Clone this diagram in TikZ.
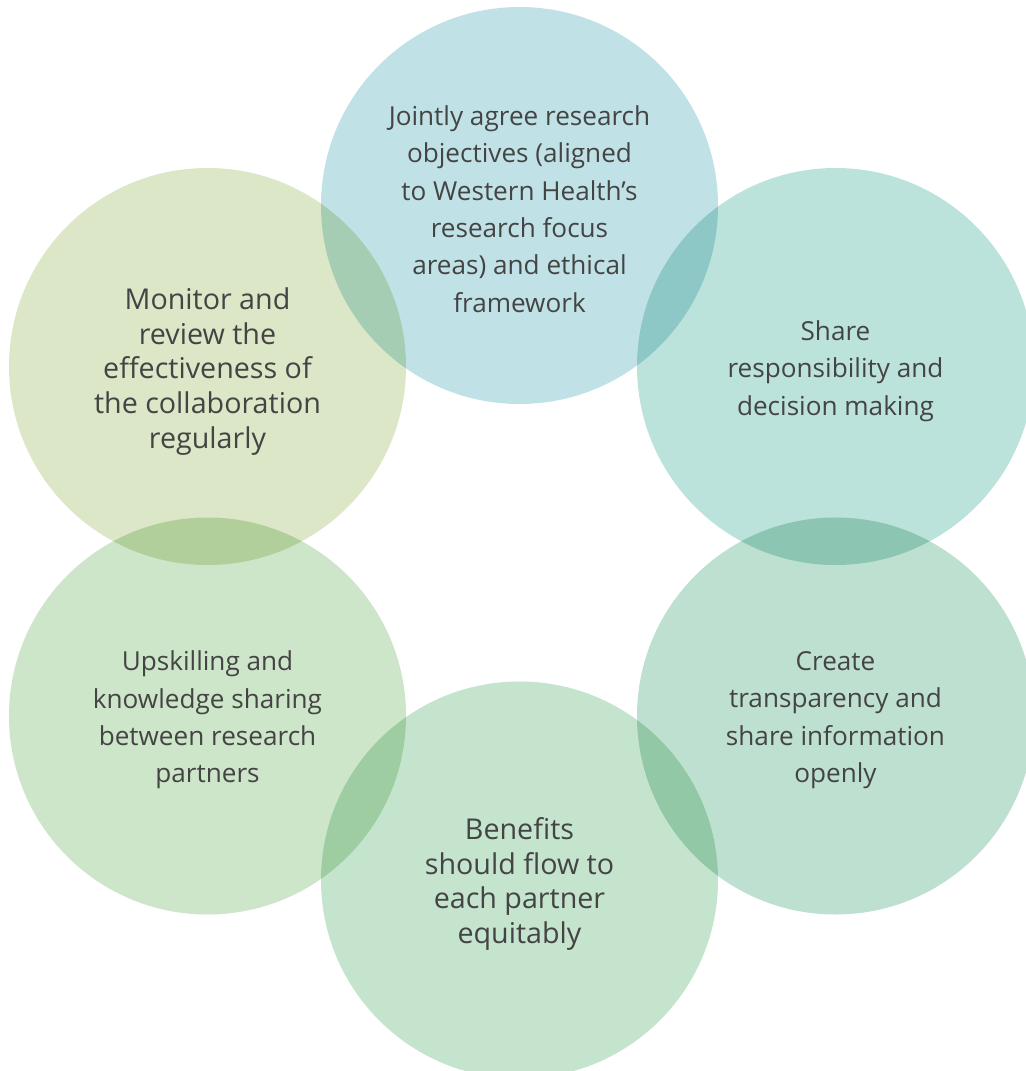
\documentclass[tikz,border=0pt]{standalone}
\usepackage{fontspec}
\setmainfont{Open Sans}
\definecolor{cTop}{HTML}{C0E2E6}
\definecolor{cUR}{HTML}{BCE2DC}
\definecolor{cLR}{HTML}{BEE0D0}
\definecolor{cBot}{HTML}{C5E4CD}
\definecolor{cLL}{HTML}{CDE5C8}
\definecolor{cUL}{HTML}{DBE7C6}
\definecolor{oTUR}{HTML}{8DC8C6}
\definecolor{oURLR}{HTML}{8CC6B3}
\definecolor{oLRB}{HTML}{93C8A7}
\definecolor{oBLL}{HTML}{9ECDA1}
\definecolor{oLLUL}{HTML}{B0CF9B}
\definecolor{oULT}{HTML}{A5CDB3}
\definecolor{txt}{HTML}{444444}
\tikzset{
  lbl/.style={align=center, text=txt, inner sep=0pt, font=\fontsize{19.6}{28}\selectfont},
  biglbl/.style={align=center, text=txt, inner sep=0pt, font=\fontsize{21.5}{26}\selectfont}
}
\newcommand{\RR}{198.5}
\begin{document}
\begin{tikzpicture}[x=0.75pt,y=-0.75pt]
\useasboundingbox (0,0) rectangle (1025,1071);
\coordinate (pT) at (519.5,205.5);
\coordinate (pUR) at (835.5,366.5);
\coordinate (pLR) at (835.5,716);
\coordinate (pB) at (519.5,880);
\coordinate (pLL) at (207.5,716);
\coordinate (pUL) at (207.5,366.5);
% circles
\fill[cTop] (pT) circle (\RR);
\fill[cUR] (pUR) circle (\RR);
\fill[cLR] (pLR) circle (\RR);
\fill[cBot] (pB) circle (\RR);
\fill[cLL] (pLL) circle (\RR);
\fill[cUL] (pUL) circle (\RR);
% overlaps
\begin{scope}\clip (pT) circle (\RR); \fill[oTUR] (pUR) circle (\RR);\end{scope}
\begin{scope}\clip (pUR) circle (\RR); \fill[oURLR] (pLR) circle (\RR);\end{scope}
\begin{scope}\clip (pLR) circle (\RR); \fill[oLRB] (pB) circle (\RR);\end{scope}
\begin{scope}\clip (pB) circle (\RR); \fill[oBLL] (pLL) circle (\RR);\end{scope}
\begin{scope}\clip (pLL) circle (\RR); \fill[oLLUL] (pUL) circle (\RR);\end{scope}
\begin{scope}\clip (pUL) circle (\RR); \fill[oULT] (pT) circle (\RR);\end{scope}
% labels
\node[lbl] (tT) at (519.5,209) {Jointly agree research\\objectives (aligned\\to Western Health’s\\research focus\\areas) and ethical\\framework};
\node[lbl] (tUR) at (835.5,371) {Share\\responsibility and\\decision making};
\node[lbl] (tLR) at (835.5,720) {Create\\transparency and\\share information\\openly};
\node[biglbl] (tB) at (519.5,884) {Benefits\\should flow to\\each partner\\equitably};
\node[lbl] (tLL) at (207.5,720) {Upskilling and\\knowledge sharing\\between research\\partners};
\node[biglbl] (tUL) at (207.5,371.5) {Monitor and\\review the\\effectiveness of\\the collaboration\\regularly};
\end{tikzpicture}
\end{document}
